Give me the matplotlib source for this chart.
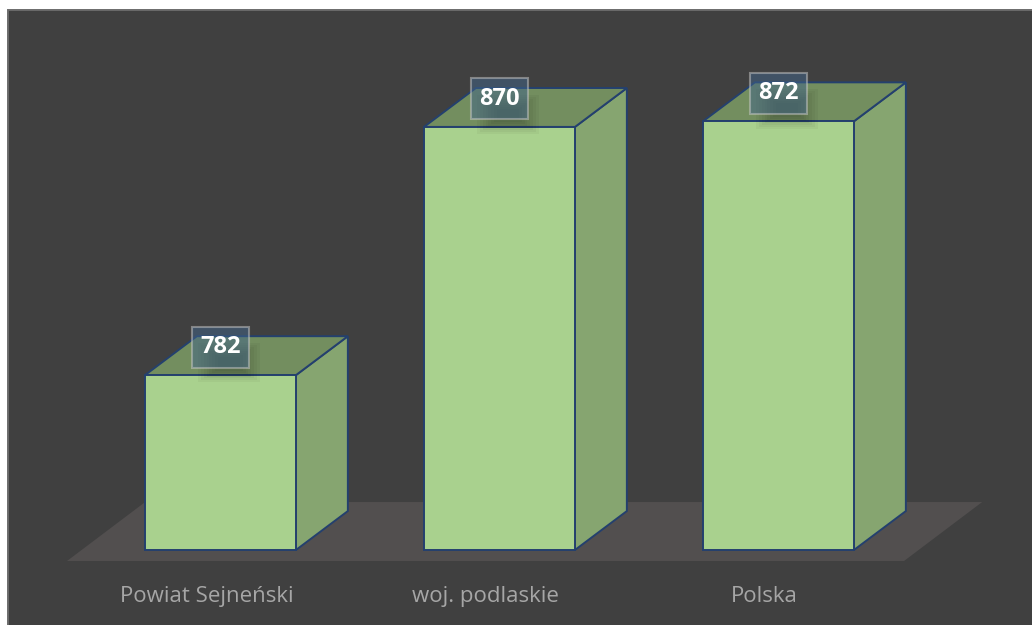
import matplotlib.pyplot as plt
from matplotlib.patches import Polygon, Rectangle
import numpy as np

# average values per area
categories = ['Powiat Sejneński', 'woj. podlaskie', 'Polska']
values = [782, 870, 872]
value_labels = ['782', '870', '872']

base = 720          # value at the floor of the bars
bar_w = 0.541       # bar width in category units
dx, dy = 0.186, 13.8  # depth of the 3d boxes (x in categories, y in values)

front_c = '#a9d18e'
side_c = '#86a570'
top_c = '#738e5f'
edge_c = '#24406e'
bg_c = '#404040'
floor_c = '#524f4f'

fig = plt.figure(figsize=(10.32, 6.25), dpi=100)
fig.patch.set_facecolor('white')

# dark chart area with thin grey frame
fig.patches.append(Rectangle((8 / 1032, -0.05), 1.1, 1.05 - 10 / 625,
                             transform=fig.transFigure, facecolor=bg_c,
                             edgecolor='#6b6b6b', linewidth=1.4, zorder=-1))

ax = fig.add_axes([0, 0, 1, 1])
ax.set_facecolor('none')
ax.set_xlim(-0.7903, 2.9086)
ax.set_ylim(693.4, 915.0)
ax.axis('off')

# floor
f0, f1 = -0.55, 2.45
fy = base - 3.9
floor = Polygon([(f0, fy), (f1, fy), (f1 + 0.28, fy + 20.9), (f0 + 0.28, fy + 20.9)],
                closed=True, facecolor=floor_c, edgecolor='none', zorder=1)
ax.add_patch(floor)

x = np.arange(len(categories))
for i, v in zip(x, values):
    l, r = i - bar_w / 2, i + bar_w / 2
    side = Polygon([(r, base), (r + dx, base + dy), (r + dx, v + dy), (r, v)],
                   facecolor=side_c, edgecolor=edge_c, linewidth=1.4, zorder=2)
    top = Polygon([(l, v), (r, v), (r + dx, v + dy), (l + dx, v + dy)],
                  facecolor=top_c, edgecolor=edge_c, linewidth=1.4, zorder=2)
    front = Rectangle((l, base), bar_w, v - base, facecolor=front_c,
                      edgecolor=edge_c, linewidth=1.4, zorder=3)
    ax.add_patch(side)
    ax.add_patch(top)
    ax.add_patch(front)

# value labels with a soft shadow underneath
for i, v, s in zip(x, values, value_labels):
    ly = v + 9.9
    for k in range(8):
        w = 0.22 - k * 0.02
        h = 14 - k * 1.4
        ax.add_patch(Rectangle((i + 0.03 - w / 2, ly - 5.5 - h / 2), w, h,
                               facecolor='black', edgecolor='none',
                               alpha=0.035, zorder=4))
    ax.text(i, ly, s, ha='center', va='center', fontsize=17,
            fontweight='bold', color='white', family='Open Sans', zorder=6,
            bbox=dict(boxstyle='square,pad=0.36', facecolor='#41648a',
                      alpha=0.5, edgecolor='#c8c8c8', linewidth=1.5))

# category labels
for i, c in zip(x, categories):
    ax.text(i - 0.05, base - 18.4, c, ha='center', va='baseline',
            fontsize=16, color='#a6a6a6', family='Open Sans', zorder=6)

plt.savefig('out.png', dpi=100, facecolor=fig.get_facecolor())
